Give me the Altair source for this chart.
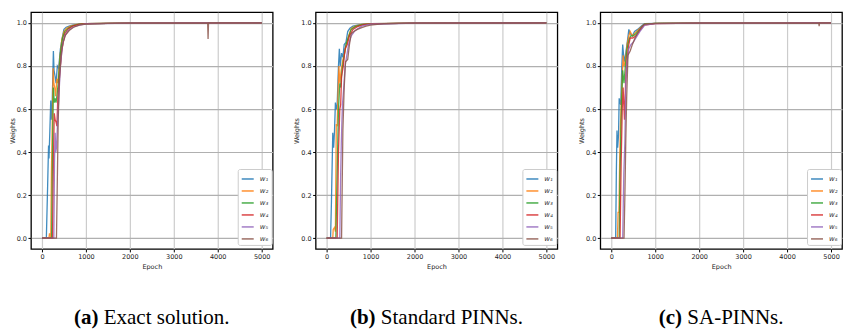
import altair as alt
import pandas as pd

# ---------------- data ----------------
EPOCH_TICKS = [0, 1000, 2000, 3000, 4000, 5000]
WEIGHT_TICKS = [0.0, 0.2, 0.4, 0.6, 0.8, 1.0]
SERIES = ["w₁", "w₂", "w₃", "w₄", "w₅", "w₆"]
COLORS = ["#1f77b4", "#ff7f0e", "#2ca02c", "#d62728", "#9467bd", "#8c564b"]
CAPTION_TAGS = ["(a)", "(b)", "(c)"]
CAPTION_TEXTS = ["Exact solution.", "Standard PINNs.", "SA-PINNs."]

# (a) Exact solution  -- (epoch, weight)
A_W1 = [(0, 0), (100, 0), (130, 0.25), (150, 0.43), (160, 0.37), (180, 0.5), (200, 0.64), (210, 0.55),
        (230, 0.6), (260, 0.87), (275, 0.78), (300, 0.75), (320, 0.72), (350, 0.8), (380, 0.79),
        (420, 0.88), (460, 0.93), (500, 0.97), (550, 0.98), (620, 0.985), (700, 0.99), (850, 0.995),
        (1000, 0.997), (2000, 0.999), (5000, 1.0)]
A_W2 = [(0, 0), (160, 0), (170, 0.02), (190, 0.02), (200, 0), (215, 0.3), (240, 0.6), (255, 0.79),
        (270, 0.72), (290, 0.7), (310, 0.66), (340, 0.74), (360, 0.72), (400, 0.82), (450, 0.92),
        (500, 0.96), (560, 0.975), (650, 0.985), (800, 0.993), (1000, 0.997), (2000, 0.999), (5000, 1.0)]
A_W3 = [(0, 0), (220, 0), (240, 0.4), (260, 0.7), (280, 0.63), (300, 0.65), (320, 0.63), (340, 0.66),
        (370, 0.72), (420, 0.86), (470, 0.93), (520, 0.96), (600, 0.975), (700, 0.987), (850, 0.994),
        (1000, 0.997), (2000, 0.999), (5000, 1.0)]
A_W4 = [(0, 0), (240, 0), (260, 0.35), (280, 0.58), (300, 0.55), (320, 0.54), (340, 0.52), (360, 0.65),
        (400, 0.75), (450, 0.87), (520, 0.95), (600, 0.972), (700, 0.985), (850, 0.993), (1000, 0.997),
        (2000, 0.999), (5000, 1.0)]
A_W5 = [(0, 0), (270, 0), (285, 0.35), (300, 0.49), (315, 0.4), (330, 0.42), (370, 0.6), (420, 0.8),
        (470, 0.9), (520, 0.94), (600, 0.965), (700, 0.98), (850, 0.99), (1000, 0.996), (2000, 0.999),
        (5000, 1.0)]
A_W6 = [(0, 0), (330, 0), (345, 0.2), (370, 0.55), (400, 0.75), (440, 0.86), (480, 0.91), (540, 0.945),
        (620, 0.965), (720, 0.98), (850, 0.99), (1000, 0.995), (1500, 0.998), (2000, 0.999), (3770, 1.0),
        (3780, 0.925), (3790, 1.0), (5000, 1.0)]

# (b) Standard PINNs
B_W1 = [(0, 0), (90, 0), (110, 0.17), (140, 0.49), (160, 0.42), (180, 0.5), (200, 0.63), (220, 0.6),
        (240, 0.62), (270, 0.8), (290, 0.88), (310, 0.8), (340, 0.86), (370, 0.84), (400, 0.9),
        (440, 0.91), (480, 0.96), (530, 0.975), (600, 0.985), (700, 0.99), (850, 0.995), (1000, 0.997),
        (2000, 0.999), (5000, 1.0)]
B_W2 = [(0, 0), (140, 0), (150, 0.04), (180, 0.05), (200, 0.03), (220, 0.53), (240, 0.52), (260, 0.68),
        (280, 0.8), (300, 0.72), (330, 0.78), (370, 0.83), (410, 0.86), (450, 0.9), (500, 0.94),
        (560, 0.975), (650, 0.985), (800, 0.993), (1000, 0.997), (2000, 0.999), (5000, 1.0)]
B_W3 = [(0, 0), (210, 0), (240, 0.3), (270, 0.6), (300, 0.72), (320, 0.7), (350, 0.78), (400, 0.85),
        (440, 0.9), (490, 0.93), (560, 0.97), (650, 0.983), (800, 0.992), (1000, 0.996), (2000, 0.999),
        (5000, 1.0)]
B_W4 = [(0, 0), (240, 0), (270, 0.4), (300, 0.6), (320, 0.62), (340, 0.75), (380, 0.8), (420, 0.88),
        (470, 0.9), (520, 0.94), (600, 0.97), (700, 0.983), (850, 0.992), (1000, 0.996), (2000, 0.999),
        (5000, 1.0)]
B_W5 = [(0, 0), (300, 0), (320, 0.3), (335, 0.45), (345, 0.52), (360, 0.62), (390, 0.7), (420, 0.8),
        (460, 0.85), (500, 0.9), (560, 0.94), (650, 0.965), (800, 0.985), (1000, 0.994), (2000, 0.999),
        (5000, 1.0)]
B_W6 = [(0, 0), (340, 0), (355, 0.25), (370, 0.5), (400, 0.7), (430, 0.82), (480, 0.83), (520, 0.9),
        (560, 0.95), (620, 0.96), (700, 0.97), (800, 0.978), (900, 0.985), (1000, 0.99), (1300, 0.997),
        (2000, 0.999), (5000, 1.0)]

# (c) SA-PINNs
C_W1 = [(0, 0), (100, 0), (115, 0.3), (130, 0.5), (145, 0.42), (165, 0.48), (180, 0.65), (200, 0.63),
        (215, 0.62), (240, 0.8), (260, 0.9), (280, 0.85), (300, 0.82), (330, 0.86), (370, 0.92),
        (400, 0.97), (430, 0.95), (480, 0.94), (530, 0.96), (600, 0.97), (680, 0.985), (760, 0.997),
        (1000, 0.998), (2000, 0.999), (5000, 1.0)]
C_W2 = [(0, 0), (140, 0), (155, 0.12), (175, 0.12), (190, 0.35), (210, 0.53), (240, 0.7), (270, 0.85),
        (290, 0.8), (320, 0.82), (360, 0.9), (400, 0.94), (430, 0.96), (480, 0.94), (550, 0.955),
        (650, 0.975), (760, 0.995), (1000, 0.998), (2000, 0.999), (5000, 1.0)]
C_W3 = [(0, 0), (180, 0), (200, 0.3), (230, 0.6), (260, 0.78), (290, 0.72), (320, 0.8), (360, 0.88),
        (400, 0.92), (440, 0.94), (500, 0.94), (560, 0.95), (650, 0.97), (750, 0.993), (1000, 0.998),
        (2000, 0.999), (5000, 1.0)]
C_W4 = [(0, 0), (200, 0), (225, 0.35), (250, 0.6), (270, 0.7), (300, 0.55), (330, 0.75), (360, 0.84),
        (400, 0.9), (430, 0.93), (490, 0.93), (560, 0.94), (650, 0.965), (750, 0.99), (1000, 0.997),
        (2000, 0.999), (5000, 1.0)]
C_W5 = [(0, 0), (260, 0), (285, 0.3), (310, 0.45), (330, 0.72), (360, 0.82), (400, 0.88), (450, 0.9),
        (500, 0.91), (560, 0.93), (650, 0.96), (760, 0.99), (1000, 0.997), (2000, 0.999), (5000, 1.0)]
C_W6 = [(0, 0), (290, 0), (310, 0.2), (330, 0.45), (350, 0.65), (380, 0.85), (430, 0.87), (480, 0.9),
        (540, 0.93), (620, 0.96), (700, 0.985), (760, 0.995), (1000, 0.998), (2000, 0.999), (4720, 1.0),
        (4730, 0.985), (4740, 1.0), (5000, 1.0)]

PANELS = [
    [A_W1, A_W2, A_W3, A_W4, A_W5, A_W6],
    [B_W1, B_W2, B_W3, B_W4, B_W5, B_W6],
    [C_W1, C_W2, C_W3, C_W4, C_W5, C_W6],
]

# ---------------- layout ----------------
W, H = 242, 237
CAP_SIZE = 21
SERIF = "Liberation Serif"
SANS = "DejaVu Sans"

# Times/Liberation Serif advance widths (1/1000 em) for caption centring
NORMAL_W = {"S": 556, "t": 278, "a": 444, "n": 500, "d": 500, "r": 333, " ": 250, "P": 556, "I": 333,
            "N": 722, "s": 389, ".": 250, "A": 722, "-": 333, "E": 611, "x": 500, "c": 444, "o": 500,
            "l": 278, "u": 500, "i": 278}
BOLD_W = {"(": 333, ")": 333, "a": 500, "b": 556, "c": 444}


def text_width(s, table):
    return sum(table.get(ch, 500) for ch in s) / 1000.0 * CAP_SIZE


def panel(series_lists, tag, text):
    rows = []
    for name, pts in zip(SERIES, series_lists):
        for i, (e, v) in enumerate(pts):
            rows.append({"series": name, "epoch": e, "weight": v, "order": i})
    df = pd.DataFrame(rows)

    lines = alt.Chart(df).mark_line(strokeWidth=1.3, opacity=0.85, clip=True).encode(
        x=alt.X("epoch:Q",
                scale=alt.Scale(domain=[-250, 5250], nice=False, zero=False),
                axis=alt.Axis(values=EPOCH_TICKS, format="d", title="Epoch")),
        y=alt.Y("weight:Q",
                scale=alt.Scale(domain=[-0.05, 1.05], nice=False, zero=False),
                axis=alt.Axis(values=WEIGHT_TICKS, format=".1f", title="Weights")),
        color=alt.Color("series:N",
                        scale=alt.Scale(domain=SERIES, range=COLORS),
                        legend=alt.Legend(orient="none", legendX=W - 35, legendY=H - 80, title=None,
                                          symbolType="stroke", symbolSize=144, symbolStrokeWidth=1.5,
                                          labelFont=SANS, labelFontSize=7, labelFontStyle="italic",
                                          labelColor="#333", fillColor="white", strokeColor="#cccccc",
                                          padding=3, cornerRadius=2, rowPadding=2, labelOffset=5)),
        order="order:Q",
    )

    tw = text_width(tag, BOLD_W)
    sw = text_width(" ", NORMAL_W)
    rw = text_width(text, NORMAL_W)
    x0 = W / 2 - (tw + sw + rw) / 2
    cap_df = pd.DataFrame({"tag": [tag], "text": [text]})
    cap_tag = alt.Chart(cap_df).mark_text(font=SERIF, fontSize=CAP_SIZE, fontWeight="bold",
                                          align="left", baseline="alphabetic", color="black").encode(
        text="tag:N", x=alt.value(x0), y=alt.value(H + 75))
    cap_txt = alt.Chart(cap_df).mark_text(font=SERIF, fontSize=CAP_SIZE, fontWeight="normal",
                                          align="left", baseline="alphabetic", color="black").encode(
        text="text:N", x=alt.value(x0 + tw + sw), y=alt.value(H + 75))

    return alt.layer(lines, cap_tag, cap_txt).properties(width=W, height=H)


charts = [panel(p, t, s) for p, t, s in zip(PANELS, CAPTION_TAGS, CAPTION_TEXTS)]

chart = alt.hconcat(*charts, spacing=43, bounds="flush").resolve_scale(
    color="independent", x="independent", y="independent"
).properties(
    padding={"left": 0, "top": 3, "right": 0, "bottom": 0}
).configure_view(
    stroke="black", strokeWidth=1.3
).configure_axis(
    domain=False, tickColor="black", tickSize=3, tickWidth=1,
    labelFont=SANS, labelFontSize=6.5, labelColor="#222", labelPadding=1.5,
    titleFont=SANS, titleFontSize=6.5, titleFontWeight="normal", titleColor="#222",
    gridWidth=1.2
).configure_axisX(
    gridColor="#cccccc", titlePadding=4
).configure_axisY(
    gridColor="#b0b0b0", titlePadding=1
)

chart.save("out.html", embed_options={"renderer": "svg", "actions": False})
